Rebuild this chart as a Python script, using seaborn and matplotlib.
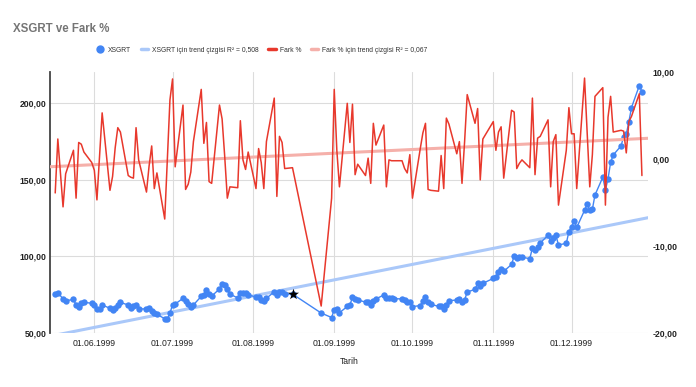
import matplotlib
matplotlib.use('Agg')
import matplotlib.pyplot as plt
import matplotlib.dates as mdates
from matplotlib.lines import Line2D
from matplotlib.ticker import FuncFormatter
import seaborn as sns
import pandas as pd

# trading calendar: first / last session and closed days (holidays, earthquake closure)
first_day = '1999-05-17'
last_day = '1999-12-28'
closed_days = ['1999-05-19',
               '1999-08-17', '1999-08-18', '1999-08-19', '1999-08-20',
               '1999-08-23', '1999-08-24', '1999-08-25', '1999-08-26',
               '1999-08-30', '1999-10-29']
star_day = '1999-08-16'

xsgrt = [75.2, 76.4, 72.2, 71.0, 71.9, 68.3, 67.2, 69.6, 70.0, 69.4,
         68.3, 65.5, 65.5, 68.3, 66.1, 65.0, 66.6, 68.3, 69.9, 68.3,
         66.3, 67.3, 68.3, 65.7, 65.7, 66.1, 64.5, 62.9, 62.2, 59.3,
         59.1, 63.0, 68.3,
         68.9, 72.6, 70.9, 68.9, 67.2, 68.3, 73.9, 75.1, 78.0, 75.4,
         74.1, 78.7, 82.0, 81.3, 78.4, 75.4, 72.8, 75.9, 76.3, 75.8,
         74.8, 73.5, 73.8, 71.5, 70.9, 72.6, 76.9, 74.6, 76.9, 76.9,
         75.4, 75.4,
         63.0, 60.1, 65.3, 65.8, 63.2, 67.3, 68.3, 73.2, 72.0, 71.5,
         70.2, 70.3, 68.3, 71.1, 72.2, 74.8, 72.6, 72.6, 72.5, 72.4,
         72.2, 71.2, 70.2, 70.5, 67.2, 67.9, 70.9, 73.2, 70.4, 68.7,
         67.4, 67.9, 65.7, 68.3, 71.1, 71.5, 72.0, 70.2, 71.6, 76.7,
         78.5, 82.4, 80.8, 82.4, 85.6, 86.5, 89.5, 92.0, 90.2, 94.7,
         100.2, 99.2, 99.3, 99.4, 98.5, 105.4, 103.8, 106.0, 108.7, 113.7,
         110.0, 112.2, 113.9, 107.4, 108.5, 116.1, 119.3, 123.1, 118.8, 130.0,
         134.0, 130.0, 130.7, 140.0, 151.6, 143.3, 150.5, 161.3, 166.1, 172.0,
         178.1, 179.6, 187.8, 197.0, 211.3, 207.4]

fark = [-3.9, 2.3, -5.5, -1.7, 1.0, -4.5, 1.9, 1.7, 0.8, -0.4,
        -1.3, -4.7, 0.3, 5.3, -3.6, -2.0, 1.3, 3.6, 3.1, -1.9,
        -2.1, -2.2, 3.6, -0.1, -3.8, -0.8, 1.5, -3.4, -1.6, -6.9,
        -0.1, 6.8, 9.2,
        -0.9, 6.2, -3.5, -2.9, -1.5, 2.0, 8.0, 1.8, 4.2, -2.6,
        -2.8, 6.2, 4.6, 0.3, -4.5, -3.2, -3.3, 4.4, -0.1, -1.2,
        0.8, -3.4, 1.2, -0.4, -3.4, 2.0, 7.0, -4.3, 2.6, 1.9,
        -1.1, -1.0,
        -16.9, -4.5, 8.0, 1.0, -3.2, 6.4, 1.9, 6.3, -1.8, -0.6,
        -1.9, 0.1, -2.8, 4.1, 1.6, 3.9, -3.2, -0.1, -0.2, -0.2,
        -0.2, -1.1, -1.6, 0.5, -4.5, 1.2, 3.0, 4.1, -3.5, -3.6,
        -3.7, 0.4, -3.4, 4.7, 4.0, 0.6, 2.0, -2.8, 2.0, 7.4,
        4.1, 5.8, -2.4, 2.3, 4.3, 1.0, 3.1, 3.7, -2.2, 5.6,
        5.4, -1.1, -0.5, -0.1, -1.0, 7.0, -1.8, 2.4, 2.6, 4.5,
        -3.2, 2.0, 2.8, -5.3, 1.0, 5.9, 2.9, 2.9, -3.4, 9.3,
        3.0, -3.2, 0.5, 7.2, 8.2, -5.3, 4.8, 7.2, 3.1, 3.3,
        3.2, 0.7, 4.3, 4.9, 7.5, -1.9]

labels = ['XSGRT', 'XSGRT için trend çizgisi R² = 0,508',
          'Fark %', 'Fark % için trend çizgisi R² = 0,067']

blue = '#4285f4'
blue_trend = '#aac8f9'
red = '#e8382c'
red_trend = '#f5b0aa'

dates = pd.bdate_range(first_day, last_day, freq='C', holidays=closed_days)
df = pd.DataFrame({'Tarih': mdates.date2num(dates), 'XSGRT': xsgrt, 'Fark %': fark})
star = df[df['Tarih'] == mdates.date2num(pd.Timestamp(star_day))]

sns.set_style('white')
plt.rcParams['font.family'] = ['Liberation Sans', 'DejaVu Sans']

fig = plt.figure(figsize=(6.96, 3.87), dpi=100)
ax = fig.add_axes([50 / 696, 1 - 333 / 387, 598 / 696, 261 / 387])
ax2 = ax.twinx()

xlim = (mdates.date2num(pd.Timestamp('1999-05-15')),
        mdates.date2num(pd.Timestamp('1999-12-30 08:00')))
ax.set_xlim(xlim)

# left axis: XSGRT
sns.regplot(data=df, x='Tarih', y='XSGRT', ax=ax, scatter=False, ci=None,
            truncate=False, color=blue_trend, line_kws=dict(lw=2.2, zorder=1))
sns.lineplot(data=df, x='Tarih', y='XSGRT', ax=ax, color=blue, lw=1.0,
             marker='o', markersize=4.6, markeredgewidth=0, zorder=3)
sns.scatterplot(data=star, x='Tarih', y='XSGRT', ax=ax, marker='*', s=70,
                color='black', edgecolor='black', linewidth=0, zorder=4)

# right axis: Fark %
sns.regplot(data=df, x='Tarih', y='Fark %', ax=ax2, scatter=False, ci=None,
            truncate=False, color=red_trend, line_kws=dict(lw=2.2, zorder=1))
sns.lineplot(data=df, x='Tarih', y='Fark %', ax=ax2, color=red, lw=1.1, zorder=3)

ax.set_xlim(xlim)
ax.set_ylim(50, 220.2)
ax2.set_ylim(-20, 10)

fmt = FuncFormatter(lambda v, p: f'{v:.2f}'.replace('.', ','))
ax.set_yticks([50, 100, 150, 200])
ax.yaxis.set_major_formatter(fmt)
ax2.set_yticks([-20, -10, 0, 10])
ax2.yaxis.set_major_formatter(fmt)

ax.xaxis.set_major_locator(mdates.MonthLocator(bymonthday=1))
ax.xaxis.set_major_formatter(mdates.DateFormatter('%d.%m.%Y'))

ax.grid(True, color='#dcdcdc', lw=0.8)
ax.set_axisbelow(True)
ax2.grid(False)

ax.tick_params(axis='y', length=0, pad=2.5, labelsize=6.2, labelcolor='#222222')
ax.tick_params(axis='x', length=0, pad=4.0, labelsize=6.2, labelcolor='#222222')
ax2.tick_params(axis='y', length=0, pad=3.2, labelsize=6.2, labelcolor='#222222')
for t in ax.get_yticklabels() + ax2.get_yticklabels():
    t.set_fontweight('bold')

for s in ['top', 'right', 'bottom']:
    ax.spines[s].set_visible(False)
    ax2.spines[s].set_visible(False)
ax2.spines['left'].set_visible(False)
ax.spines['left'].set_color('#444444')
ax.spines['left'].set_linewidth(1.3)

ax.set_xlabel('')
ax.set_ylabel('')
ax2.set_xlabel('')
ax2.set_ylabel('')

fig.text(13 / 696, 1 - 32 / 387, 'XSGRT ve Fark %', fontsize=8.3, fontweight='bold',
         color='#757575', ha='left', va='baseline')
fig.text(349 / 696, 1 - 362 / 387, 'Tarih', fontsize=6.2, color='#222222',
         ha='center', va='center')

handles = [Line2D([], [], marker='o', color=blue, linestyle='none', markersize=5),
           Line2D([], [], color=blue_trend, lw=2.5),
           Line2D([], [], color=red, lw=2.5),
           Line2D([], [], color=red_trend, lw=2.5)]
fig.legend(handles, labels, loc='center', bbox_to_anchor=(262 / 696, 1 - 50 / 387),
           ncol=4, frameon=False, fontsize=4.9, handlelength=1.1, handletextpad=0.6,
           columnspacing=1.4, labelcolor='#333333')

fig.savefig('out.png', dpi=100)
